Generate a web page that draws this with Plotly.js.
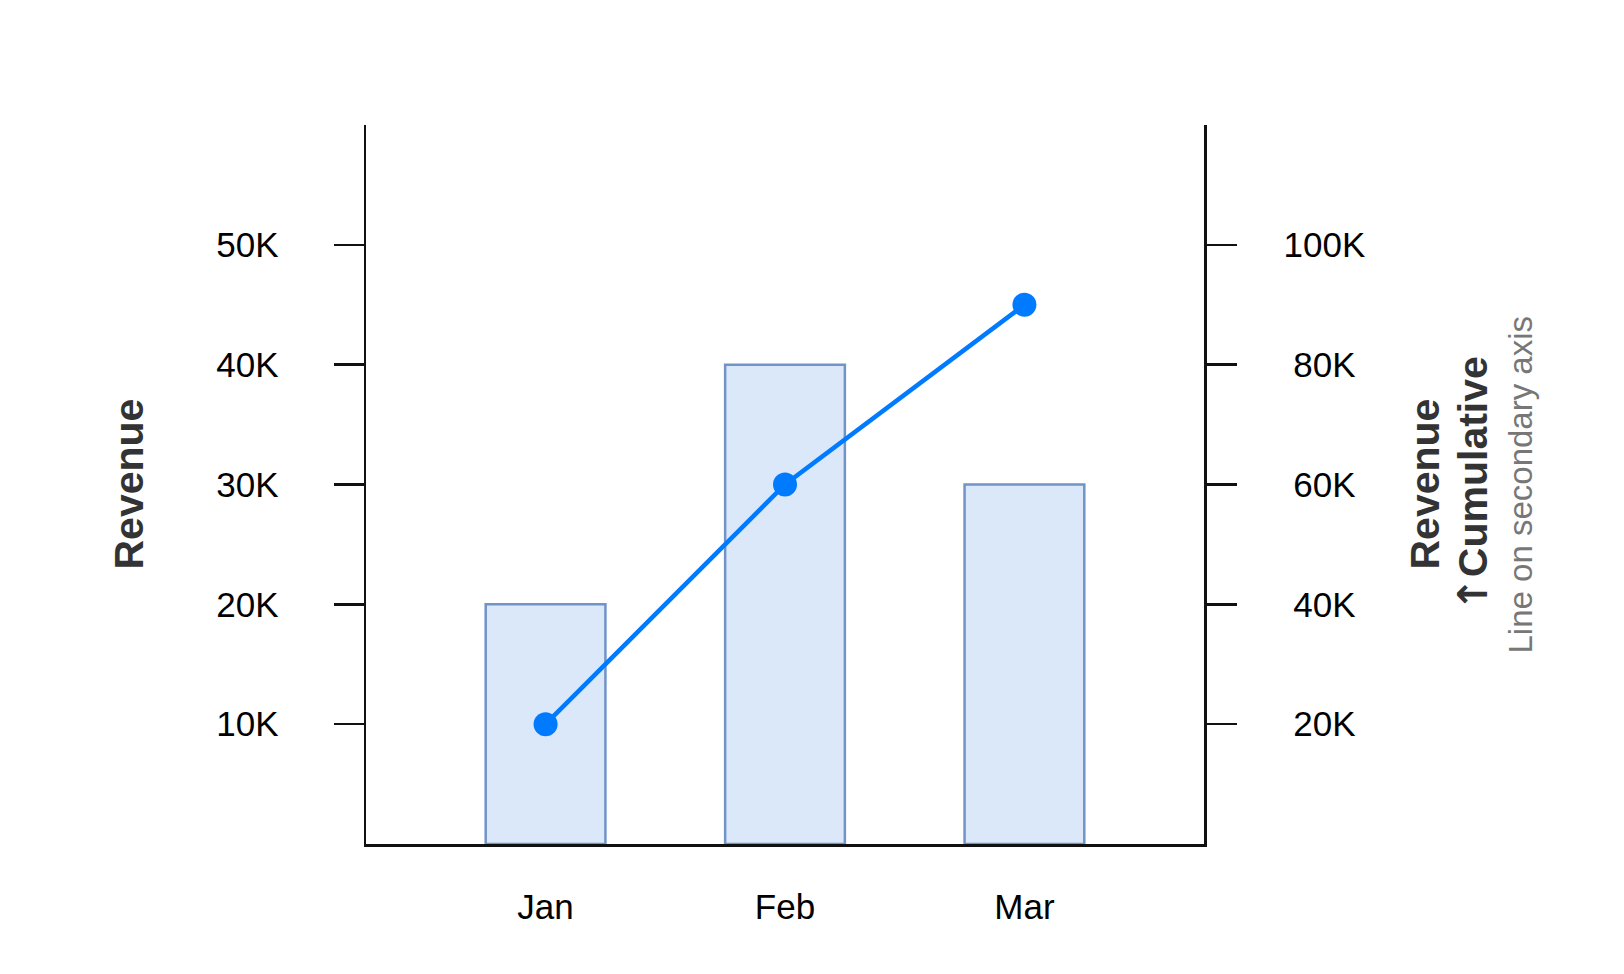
<!DOCTYPE html>
<html>
<head>
<meta charset="utf-8">
<script src="https://cdn.plot.ly/plotly-3.0.1.min.js"></script>
<style>html,body{margin:0;padding:0;background:#fff;}#chart{width:1624px;height:974px;}</style>
</head>
<body>
<div id="chart"></div>
<script>
// Data
const months = ["Jan", "Feb", "Mar"];
const revenue = [20000, 40000, 30000];
const cumulativeRevenue = [20000, 60000, 90000];
const leftTickVals = [10000, 20000, 30000, 40000, 50000];
const leftTickText = ["10K", "20K", "30K", "40K", "50K"];
const rightTickVals = [20000, 40000, 60000, 80000, 100000];
const rightTickText = ["\u00a020K", "\u00a040K", "\u00a060K", "\u00a080K", "100K"];

const FONT = "Liberation Sans, Arial, Helvetica, sans-serif";
const AX = "#111111";

const traces = [
  {
    type: "bar",
    x: months,
    y: revenue,
    width: 0.5,
    marker: { color: "#dbe8fa", line: { color: "rgb(112,148,200)", width: 2.5 } },
    hoverinfo: "skip"
  },
  {
    type: "scatter",
    mode: "lines+markers",
    x: months,
    y: cumulativeRevenue,
    yaxis: "y2",
    line: { color: "rgb(0,123,255)", width: 4.5 },
    marker: { color: "rgb(0,123,255)", size: 24 },
    cliponaxis: false,
    hoverinfo: "skip"
  }
];

const layout = {
  width: 1624,
  height: 974,
  paper_bgcolor: "#ffffff",
  plot_bgcolor: "#ffffff",
  showlegend: false,
  font: { family: FONT, size: 35, color: "#000" },
  margin: { l: 366, r: 420, t: 125, b: 130, pad: 0 },
  xaxis: {
    type: "category",
    range: [-0.75, 2.75],
    showline: true, linecolor: AX, linewidth: 2.5,
    ticks: "", showgrid: false, zeroline: false,
    tickfont: { family: FONT, size: 35, color: "#000" },
    ticklabelstandoff: 30,
    fixedrange: true
  },
  yaxis: {
    range: [0, 60000],
    showline: true, linecolor: AX, linewidth: 2.5,
    ticks: "outside", ticklen: 30, tickwidth: 2.5, tickcolor: AX,
    tickmode: "array", tickvals: leftTickVals, ticktext: leftTickText,
    showgrid: false, zeroline: false,
    tickfont: { family: FONT, size: 35, color: "#000" },
    ticklabelstandoff: 48,
    fixedrange: true
  },
  yaxis2: {
    range: [0, 120000],
    overlaying: "y",
    side: "right",
    showline: true, linecolor: AX, linewidth: 2.5,
    ticks: "outside", ticklen: 30, tickwidth: 2.5, tickcolor: AX,
    tickmode: "array", tickvals: rightTickVals, ticktext: rightTickText,
    showgrid: false, zeroline: false,
    tickfont: { family: FONT, size: 35, color: "#000" },
    ticklabelstandoff: 40,
    fixedrange: true
  },
  annotations: [
    {
      text: "Revenue", xref: "paper", yref: "paper", x: 0, y: 0.5,
      xshift: -238, xanchor: "center", yanchor: "middle", textangle: -90,
      showarrow: false, font: { family: FONT, size: 41, color: "#333", weight: "bold" }
    },
    {
      text: "Revenue", xref: "paper", yref: "paper", x: 1, y: 0.5,
      xshift: 220, xanchor: "center", yanchor: "middle", textangle: -90,
      showarrow: false, font: { family: FONT, size: 41, color: "#333", weight: "bold" }
    },
    {
      text: "<span style=\"font-family:'DejaVu Sans';font-weight:bold\">↑</span>Cumulative", xref: "paper", yref: "paper", x: 1, y: 0.5,
      xshift: 268, xanchor: "center", yanchor: "middle", textangle: -90,
      showarrow: false, font: { family: FONT, size: 41, color: "#333", weight: "bold" }
    },
    {
      text: "Line on secondary axis", xref: "paper", yref: "paper", x: 1, y: 0.5,
      xshift: 316, xanchor: "center", yanchor: "middle", textangle: -90,
      showarrow: false, font: { family: FONT, size: 33, color: "#777" }
    }
  ]
};

Plotly.newPlot("chart", traces, layout, { displayModeBar: false, staticPlot: true });
</script>
</body>
</html>
